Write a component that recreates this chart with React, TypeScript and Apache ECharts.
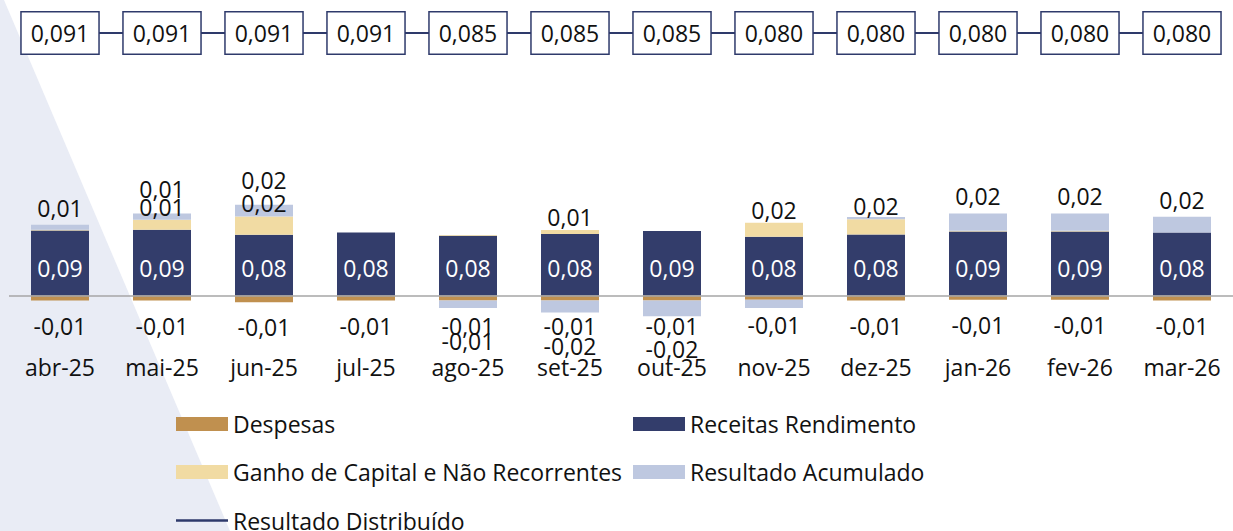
import React, { useEffect, useRef } from "react";
import * as echarts from "echarts";

const categories = ["abr-25", "mai-25", "jun-25", "jul-25", "ago-25", "set-25", "out-25", "nov-25", "dez-25", "jan-26", "fev-26", "mar-26"];
const despesas = [-0.0067, -0.0067, -0.009, -0.0067, -0.0067, -0.0067, -0.0067, -0.0058, -0.0067, -0.0055, -0.0055, -0.0067];
const receitas = [0.0867, 0.0876, 0.0809, 0.084, 0.0796, 0.0819, 0.0859, 0.0783, 0.0813, 0.0855, 0.0855, 0.084];
const ganho = [0.001, 0.0133, 0.0245, 0, 0.001, 0.0053, 0, 0.0187, 0.0204, 0.001, 0.001, 0];
const acumulado = [0.0067, 0.0084, 0.0156, 0, -0.0101, -0.016, -0.0209, -0.011, 0.0031, 0.023, 0.023, 0.0209];
const distribuido = [0.091, 0.091, 0.091, 0.091, 0.085, 0.085, 0.085, 0.08, 0.08, 0.08, 0.08, 0.08];
const hiddenAcumLabels = ["nov-25"];

const FONT = "Open Sans";
const C_DESP = "#c0904f";
const C_REC = "#333d6b";
const C_GANHO = "#f1dba3";
const C_ACUM = "#bec8e0";
const C_LINE = "#2e3a6b";

const fmt2 = (v: number) => {
  const r = Math.round(v * 100);
  if (r === 0) return "";
  return (r / 100).toFixed(2).replace(".", ",");
};
const shown = (v: number) => Math.round(v * 100) !== 0;

const labelBase = {
  show: true,
  fontFamily: FONT,
  fontSize: 23,
  lineHeight: 26,
  color: "#111",
  formatter: (p: any) => fmt2(Number(p.value)),
};

function buildOption() {
  const acumData = acumulado.map((v, i) => ({
    value: v,
    label:
      v >= 0
        ? { position: "top", distance: shown(ganho[i]) ? 12 : 4 }
        : { position: "bottom", distance: 20, show: !hiddenAcumLabels.includes(categories[i]) },
  }));

  const legendCommon = {
    itemWidth: 52,
    itemHeight: 14,
    padding: 0,
    selectedMode: false,
    textStyle: { fontFamily: FONT, fontSize: 23, lineHeight: 26, color: "#111" },
  };

  return {
    animation: false,
    textStyle: { fontFamily: FONT },
    graphic: [
      {
        type: "polygon",
        z: -10,
        silent: true,
        shape: { points: [[0, 0], [4, 0], [230, 531], [0, 531]] },
        style: { fill: "#e9ecf5" },
      },
    ],
    legend: [
      { ...legendCommon, left: 176, top: 411, data: [{ name: "Despesas", icon: "rect" }] },
      { ...legendCommon, left: 633, top: 411, data: [{ name: "Receitas Rendimento", icon: "rect" }] },
      { ...legendCommon, left: 176, top: 459, data: [{ name: "Ganho de Capital e Não Recorrentes", icon: "rect" }] },
      { ...legendCommon, left: 633, top: 459, data: [{ name: "Resultado Acumulado", icon: "rect" }] },
      {
        ...legendCommon,
        itemHeight: 2.5,
        left: 176,
        top: 509,
        textStyle: { fontFamily: FONT, fontSize: 23, lineHeight: 22, color: "#111" },
        data: [{ name: "Resultado Distribuído", icon: "rect" }],
      },
    ],
    grid: [
      { left: 9, width: 1230, top: 183, height: 150 },
      { left: 9, width: 1230, top: 23, height: 10 },
    ],
    xAxis: [
      {
        type: "category",
        gridIndex: 0,
        data: categories,
        axisLine: { show: false, onZero: false },
        axisTick: { show: false },
        axisLabel: { fontFamily: FONT, fontSize: 23, lineHeight: 26, color: "#111", margin: 21 },
      },
      {
        type: "category",
        gridIndex: 1,
        data: categories,
        show: false,
      },
    ],
    yAxis: [
      { type: "value", gridIndex: 0, min: -0.05, max: 0.15, show: false, splitLine: { show: false } },
      { type: "value", gridIndex: 1, min: 0, max: 10, show: false, splitLine: { show: false } },
    ],
    series: [
      {
        name: "Despesas",
        type: "bar",
        stack: "total",
        barWidth: 58,
        data: despesas,
        itemStyle: { color: C_DESP },
        label: { ...labelBase, position: "bottom", distance: 12 },
      },
      {
        name: "Receitas Rendimento",
        type: "bar",
        stack: "total",
        barWidth: 58,
        data: receitas,
        itemStyle: { color: C_REC },
        label: { ...labelBase, color: "#fff", position: "insideBottom", distance: 15 },
        markLine: {
          silent: true,
          symbol: ["none", "none"],
          label: { show: false },
          lineStyle: { color: "#a6a6a6", width: 1.5, type: "solid" },
          data: [{ yAxis: 0 }],
        },
      },
      {
        name: "Ganho de Capital e Não Recorrentes",
        type: "bar",
        stack: "total",
        barWidth: 58,
        data: ganho,
        itemStyle: { color: C_GANHO },
        label: { ...labelBase, position: "top", distance: 0 },
      },
      {
        name: "Resultado Acumulado",
        type: "bar",
        stack: "total",
        barWidth: 58,
        data: acumData,
        itemStyle: { color: C_ACUM },
        label: { ...labelBase },
      },
      {
        name: "Resultado Distribuído",
        type: "line",
        xAxisIndex: 1,
        yAxisIndex: 1,
        data: distribuido,
        symbol: "circle",
        symbolSize: 2,
        lineStyle: { color: C_LINE, width: 2 },
        itemStyle: { color: C_LINE },
        label: {
          show: true,
          position: "inside",
          fontFamily: FONT,
          fontSize: 23,
          lineHeight: 25,
          color: "#111",
          backgroundColor: "#fff",
          borderColor: C_LINE,
          borderWidth: 1.5,
          padding: [8, 9],
          formatter: (p: any) => Number(p.value).toFixed(3).replace(".", ","),
        },
      },
    ],
  };
}

export default function App() {
  const ref = useRef<HTMLDivElement>(null);
  useEffect(() => {
    if (!ref.current) return;
    const chart = echarts.init(ref.current, null, { renderer: "svg" });
    chart.setOption(buildOption() as any);
    return () => chart.dispose();
  }, []);
  return (
    <div
      ref={ref}
      style={{ position: "fixed", left: 0, top: 0, width: 1233, height: 531, background: "#fff" }}
    />
  );
}
